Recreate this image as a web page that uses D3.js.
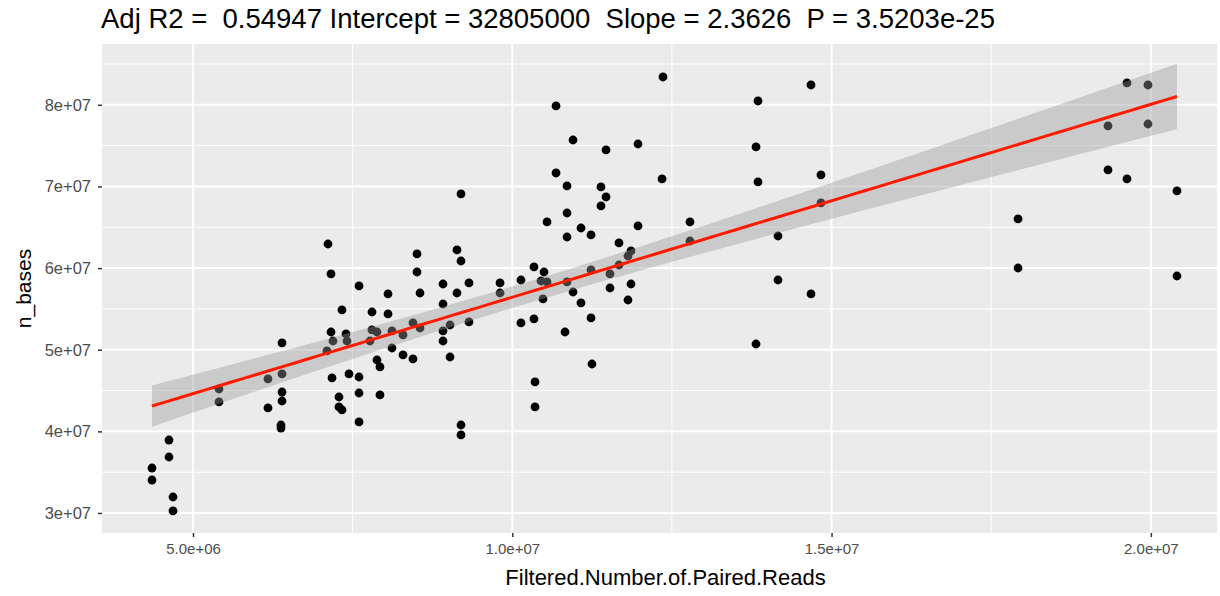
<!DOCTYPE html>
<html>
<head>
<meta charset="utf-8">
<script src="https://cdn.jsdelivr.net/npm/d3@7"></script>
<style>
  html, body { margin: 0; padding: 0; background: #ffffff; }
  svg { display: block; font-family: "Liberation Sans", Arial, Helvetica, sans-serif; }
</style>
</head>
<body>
<svg id="chart" width="1220" height="596"></svg>
<script>
// Filtered read pairs per sample (millions)
const filteredReads = [
  4.358, 4.358, 4.624, 4.624, 4.687, 4.687, 5.407, 5.407, 6.174, 6.174,
  6.394, 6.394, 6.394, 6.394, 6.378, 6.378, 7.114, 7.161, 7.600, 7.333,
  7.161, 7.192, 7.098, 7.396, 7.412, 7.177, 7.443, 7.600, 7.286, 7.286,
  7.333, 7.600, 7.600, 8.054, 7.803, 8.054, 7.803, 7.881, 7.772, 8.116,
  8.289, 8.116, 7.881, 7.928, 7.928, 8.289, 8.445, 8.508, 8.508, 8.555,
  8.445, 8.555, 8.915, 8.915, 9.134, 9.197, 9.134, 8.915, 8.915, 9.025,
  9.025, 9.322, 9.322, 9.197, 9.197, 9.197, 9.808, 9.808, 10.136, 10.136,
  10.685, 10.951, 11.468, 11.969, 10.685, 10.857, 11.389, 11.468, 11.389, 12.345,
  10.857, 10.544, 11.076, 11.233, 10.857, 11.969, 11.671, 12.783, 12.783, 11.859,
  11.812, 11.671, 10.340, 10.497, 10.450, 10.544, 10.857, 11.233, 11.530, 11.530,
  10.951, 10.481, 11.076, 11.859, 11.812, 10.340, 11.233, 10.826, 11.248, 10.356,
  10.356, 12.360, 14.678, 13.848, 13.817, 13.848, 14.834, 14.834, 14.161, 14.161,
  14.678, 13.817, 19.626, 19.955, 19.329, 19.955, 19.329, 19.626, 20.409, 17.920,
  17.920, 20.409
];

// Bases per sample (millions)
const nBases = [
  35.51, 34.04, 38.94, 36.86, 31.96, 30.25, 45.19, 43.60, 46.42, 42.87,
  50.83, 47.03, 44.82, 43.72, 40.78, 40.41, 62.95, 59.28, 57.81, 54.87,
  52.17, 51.07, 49.85, 51.93, 51.07, 46.54, 47.03, 46.66, 44.21, 42.99,
  42.62, 44.70, 41.15, 56.83, 54.62, 54.38, 52.42, 52.17, 51.07, 52.30,
  51.81, 50.21, 48.74, 47.89, 44.46, 49.36, 48.87, 61.73, 59.52, 56.95,
  53.28, 52.66, 58.05, 55.60, 62.22, 60.87, 56.95, 52.30, 51.07, 53.03,
  49.11, 58.18, 53.40, 69.08, 40.78, 39.56, 58.18, 56.95, 58.54, 53.28,
  79.86, 75.69, 74.47, 75.20, 71.65, 70.06, 69.94, 68.71, 67.61, 70.92,
  66.75, 65.65, 64.91, 64.06, 63.81, 65.16, 63.08, 65.65, 63.32, 62.10,
  61.48, 60.38, 60.14, 59.52, 58.42, 58.30, 58.30, 59.77, 59.28, 57.56,
  57.07, 56.22, 55.73, 58.05, 56.09, 53.77, 53.89, 52.17, 48.25, 46.05,
  42.99, 83.41, 82.43, 80.47, 74.84, 70.55, 71.41, 67.98, 63.93, 58.54,
  56.83, 50.70, 82.68, 82.43, 77.41, 77.65, 72.02, 70.92, 69.45, 66.02,
  60.01, 59.03
];

// Fit summary shown in the title
const adjR2 = "0.54947";
const intercept = 32805000;
const slope = 2.3626;
const pValue = "3.5203e-25";

const xTicks = [5e6, 1e7, 1.5e7, 2e7];
const xTickLabels = ["5.0e+06", "1.0e+07", "1.5e+07", "2.0e+07"];
const xMinor = [7.5e6, 1.25e7, 1.75e7];
const yTicks = [3e7, 4e7, 5e7, 6e7, 7e7, 8e7];
const yTickLabels = ["3e+07", "4e+07", "5e+07", "6e+07", "7e+07", "8e+07"];
const yMinor = [3.5e7, 4.5e7, 5.5e7, 6.5e7, 7.5e7, 8.5e7];

const xLabel = "Filtered.Number.of.Paired.Reads";
const yLabel = "n_bases";

// ---- build the points ----
const points = filteredReads.map((x, i) => ({ x: x * 1e6, y: nBases[i] * 1e6 }));

const svg = d3.select("#chart");
const panel = { left: 102, right: 1217, top: 44, bottom: 533 };

const x = d3.scaleLinear().domain([3.575e6, 21.036e6]).range([panel.left, panel.right]);
const y = d3.scaleLinear().domain([27.55e6, 87.45e6]).range([panel.bottom, panel.top]);

// panel background
svg.append("rect")
  .attr("x", panel.left).attr("y", panel.top)
  .attr("width", panel.right - panel.left).attr("height", panel.bottom - panel.top)
  .attr("fill", "#ebebeb");

const grid = svg.append("g");
grid.selectAll(".xminor").data(xMinor).join("line")
  .attr("x1", d => x(d)).attr("x2", d => x(d))
  .attr("y1", panel.top).attr("y2", panel.bottom)
  .attr("stroke", "#ffffff").attr("stroke-width", 1);
grid.selectAll(".yminor").data(yMinor).join("line")
  .attr("y1", d => y(d)).attr("y2", d => y(d))
  .attr("x1", panel.left).attr("x2", panel.right)
  .attr("stroke", "#ffffff").attr("stroke-width", 1);
grid.selectAll(".xmajor").data(xTicks).join("line")
  .attr("x1", d => x(d)).attr("x2", d => x(d))
  .attr("y1", panel.top).attr("y2", panel.bottom)
  .attr("stroke", "#ffffff").attr("stroke-width", 2);
grid.selectAll(".ymajor").data(yTicks).join("line")
  .attr("y1", d => y(d)).attr("y2", d => y(d))
  .attr("x1", panel.left).attr("x2", panel.right)
  .attr("stroke", "#ffffff").attr("stroke-width", 2);

// points
svg.append("g").selectAll("circle").data(points).join("circle")
  .attr("cx", d => x(d.x)).attr("cy", d => y(d.y))
  .attr("r", 4.4).attr("fill", "#000000");

// linear fit with 95% confidence band
const n = points.length;
const xMean = d3.mean(points, d => d.x);
const sxx = d3.sum(points, d => (d.x - xMean) ** 2);
const sse = d3.sum(points, d => (d.y - (intercept + slope * d.x)) ** 2);
const sigma = Math.sqrt(sse / (n - 2));
const tCrit = 1.978;
const [xLo, xHi] = d3.extent(points, d => d.x);
const fit = d3.range(80).map(i => {
  const xv = xLo + (xHi - xLo) * i / 79;
  const fv = intercept + slope * xv;
  const se = sigma * Math.sqrt(1 / n + (xv - xMean) ** 2 / sxx);
  return { x: xv, y: fv, lo: fv - tCrit * se, hi: fv + tCrit * se };
});

svg.append("path").datum(fit)
  .attr("d", d3.area().x(d => x(d.x)).y0(d => y(d.lo)).y1(d => y(d.hi)))
  .attr("fill", "#999999").attr("fill-opacity", 0.4);

svg.append("path").datum(fit)
  .attr("d", d3.line().x(d => x(d.x)).y(d => y(d.y)))
  .attr("fill", "none").attr("stroke", "#ff1a00").attr("stroke-width", 3);

// axes
const xAxis = svg.append("g").attr("transform", `translate(0,${panel.bottom})`)
  .call(d3.axisBottom(x).tickValues(xTicks).tickFormat((d, i) => xTickLabels[i]).tickSize(4).tickPadding(6));
const yAxis = svg.append("g").attr("transform", `translate(${panel.left},0)`)
  .call(d3.axisLeft(y).tickValues(yTicks).tickFormat((d, i) => yTickLabels[i]).tickSize(4).tickPadding(7));
[xAxis, yAxis].forEach(g => {
  g.select(".domain").remove();
  g.selectAll(".tick line").attr("stroke", "#333333").attr("stroke-width", 1.5);
  g.selectAll(".tick text").attr("fill", "#4d4d4d")
    .style("font-family", "'Liberation Sans', Arial, sans-serif");
});
xAxis.selectAll(".tick text").style("font-size", "15px");
yAxis.selectAll(".tick text").style("font-size", "16.5px");

// axis titles
svg.append("text").attr("x", (panel.left + panel.right) / 2 + 6).attr("y", 585)
  .attr("text-anchor", "middle").style("font-size", "22px").attr("fill", "#000")
  .text(xLabel);
svg.append("text").attr("transform", `translate(31,${(panel.top + panel.bottom) / 2}) rotate(-90)`)
  .attr("text-anchor", "middle").style("font-size", "21px").attr("fill", "#000")
  .text(yLabel);

// title
svg.append("text").attr("x", 101).attr("y", 28)
  .attr("xml:space", "preserve").style("white-space", "pre")
  .style("font-size", "27.5px").attr("fill", "#000")
  .text(`Adj R2 =  ${adjR2} Intercept = ${intercept}  Slope = ${slope}  P = ${pValue}`);
</script>
</body>
</html>
